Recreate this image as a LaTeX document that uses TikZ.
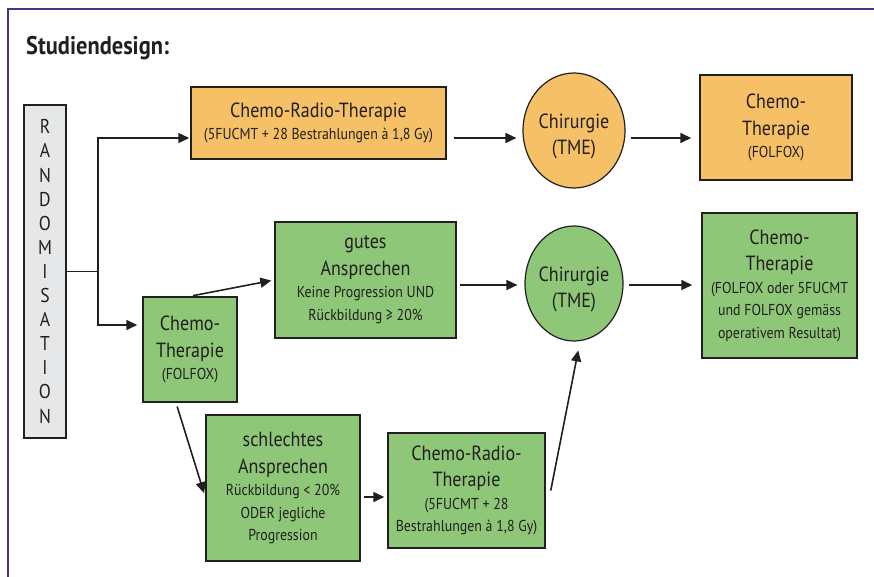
\documentclass[tikz,border=0pt]{standalone}
\usepackage{fontspec}
\setmainfont{PT Sans}[FakeStretch=0.88]
\usepackage{tikz}
\usetikzlibrary{arrows.meta}
\usetikzlibrary{shapes.geometric}

\definecolor{rahmen}{HTML}{4E3186}
\definecolor{orangefill}{HTML}{F6C067}
\definecolor{gruenfill}{HTML}{8DC777}
\definecolor{graufill}{HTML}{E6E7E8}
\definecolor{linie}{HTML}{231F20}

\newcommand{\gross}{\fontsize{20.5}{26.5}\selectfont}
\newcommand{\klein}{\fontsize{15.8}{21.5}\selectfont}

\begin{document}
\begin{tikzpicture}[x=1pt, y=-1pt,
        >={Triangle[length=11pt,width=10pt]},
        box/.style={draw=linie, line width=1.5pt, align=center, text=linie, inner sep=0pt, font=\gross},
        obox/.style={box, rectangle, fill=orangefill},
        gbox/.style={box, rectangle, fill=gruenfill},
        opoval/.style={box, ellipse, line width=1.2pt},
        optext/.style={align=center, text=linie, inner sep=0pt, font=\gross},
        pfeil/.style={->, draw=linie, line width=1.6pt}]
                \useasboundingbox (0,0) rectangle (874,577);

                % Rahmen und Titel
                \draw[rahmen, line width=2.5pt] (8,580) -- (8,9) -- (878,9);
                \node[anchor=base west, inner sep=0pt, text=linie, font=\bfseries\fontsize{25.5}{25.5}\selectfont] (titel) at (26,55) {Studiendesign:};

                % Randomisation
                \node[box, rectangle, fill=graufill, minimum width=42pt, minimum height=333pt, font=\fontsize{20}{24.1}\selectfont] (rand) at (45,271.5) {R\\A\\N\\D\\O\\M\\I\\S\\A\\T\\I\\O\\N};

                % Arm oben
                \node[obox, minimum width=255pt, minimum height=72pt] (crt1) at (318.5,123) {Chemo-Radio-Therapie\\[-4pt] \klein (5FUCMT + 28 Bestrahlungen à 1,8 Gy)};
                \node[opoval, fill=orangefill, minimum width=102pt, minimum height=115pt] (op1) at (574,130.5) {};
                \node[optext] (op1txt) at ([yshift=-6pt]op1.center) {Chirurgie\\(TME)};
                \node[obox, minimum width=152pt, minimum height=105pt] (ct1) at (776,127.5) {Chemo-\\Therapie\\[-4pt] \klein (FOLFOX)};

                % Arm unten
                \node[gbox, minimum width=94pt, minimum height=105pt] (ct0) at (190,349.5) {Chemo-\\Therapie\\[-4pt] \klein (FOLFOX)};
                \node[gbox, minimum width=181pt, minimum height=116pt] (gut) at (365.5,280) {gutes\\Ansprechen\\[-4pt] \klein Keine Progression UND\\[-4pt] \klein Rückbildung ≥ 20\%};
                \node[opoval, fill=gruenfill, minimum width=98pt, minimum height=115pt] (op2) at (574,283.5) {};
                \node[optext] (op2txt) at ([yshift=-6pt]op2.center) {Chirurgie\\(TME)};
                \node[gbox, minimum width=155pt, minimum height=145pt] (ct2) at (779.5,285.5) {Chemo-\\Therapie\\[-4pt] \klein (FOLFOX oder 5FUCMT\\[-4pt] \klein und FOLFOX gemäss\\[-4pt] \klein operativem Resultat)};
                \node[gbox, minimum width=154pt, minimum height=146pt] (schlecht) at (283,488) {schlechtes\\Ansprechen\\[-4pt] \klein Rückbildung < 20\%\\[-4pt] \klein ODER jegliche\\[-4pt] \klein Progression};
                \node[gbox, minimum width=157pt, minimum height=115pt] (crt2) at (466.5,490.5) {Chemo-Radio-\\Therapie\\[-4pt] \klein (5FUCMT + 28\\[-4pt] \klein Bestrahlungen à 1,8 Gy)};

                % Verbindungen
                \draw[draw=linie, line width=1.6pt] (rand.east) -- ++(31,0) coordinate (split);
                \draw[pfeil] (split) |- ([shift={(-1pt,-15pt)}]crt1.west);
                \draw[pfeil] (split) |- ([shift={(-5pt,24.5pt)}]ct0.west);
                \path ([yshift=-15pt]crt1.east) coordinate (r1);
                \draw[pfeil, shorten <=7pt, shorten >=6pt] (r1) -- (op1.west |- r1);
                \draw[pfeil, shorten <=5pt, shorten >=8pt] (op1.east |- r1) -- (ct1.west |- r1);
                \draw[pfeil, shorten <=3pt, shorten >=3pt] (ct0.north) -- (gut.west);
                \path ([yshift=-5pt]gut.east) coordinate (r2);
                \draw[pfeil, shorten <=3pt, shorten >=7pt] (r2) -- (op2.west |- r2);
                \draw[pfeil, shorten <=5pt, shorten >=9pt] (op2.east |- r2) -- (ct2.west |- r2);
                \draw[pfeil, shorten <=4pt, shorten >=4pt] ([xshift=-14pt]ct0.south) -- ([yshift=-9pt]schlecht.west);
                \path ([yshift=-9pt]schlecht.east) coordinate (r3);
                \draw[pfeil, shorten <=3pt, shorten >=3pt] (r3) -- (crt2.west |- r3);
                \draw[pfeil, shorten >=9pt] ([xshift=5pt]crt2.east) -- ([xshift=6pt]op2.south);
            \end{tikzpicture}
\end{document}
